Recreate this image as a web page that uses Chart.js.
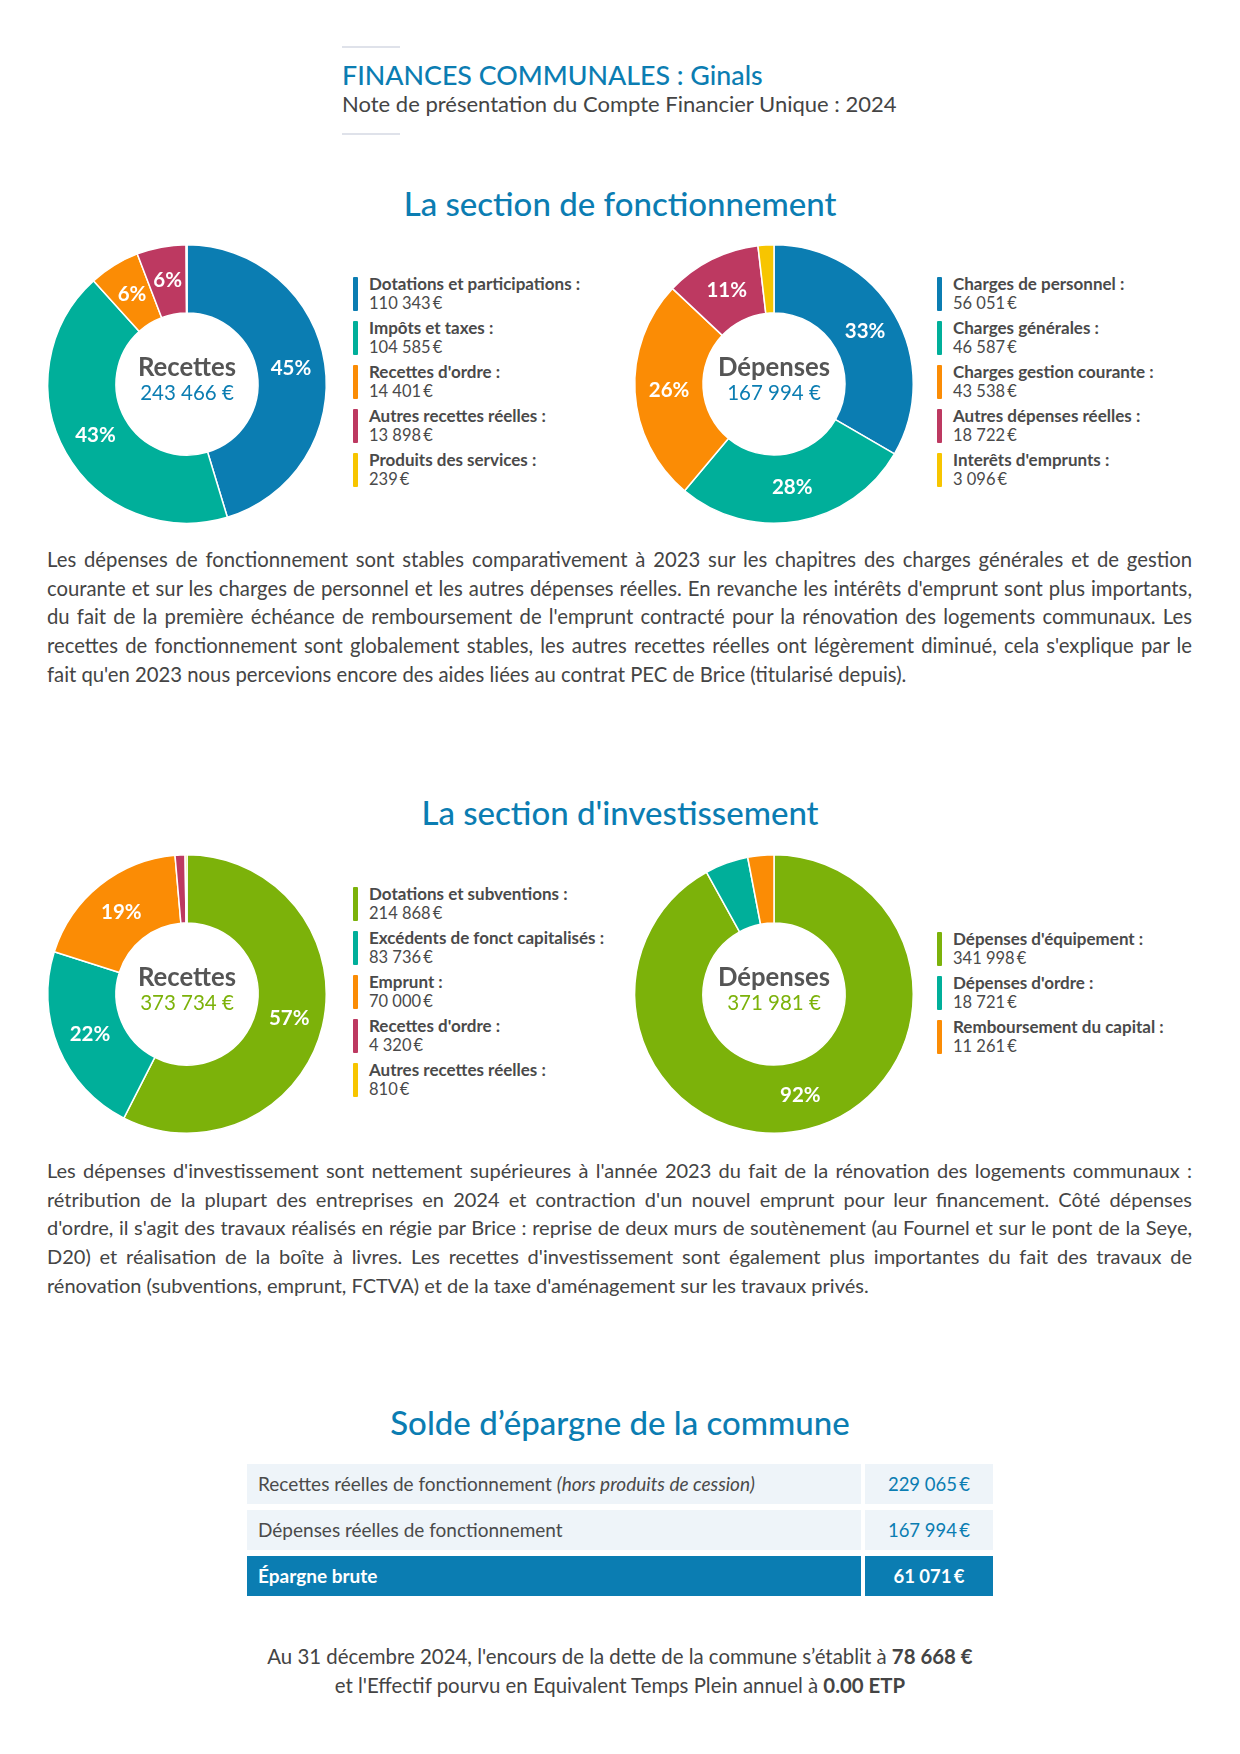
<!DOCTYPE html>
<html lang="fr">
<head>
<meta charset="utf-8">
<title>Finances communales : Ginals</title>
<script src="https://cdn.jsdelivr.net/npm/chart.js@4.4.1/dist/chart.umd.min.js"></script>
<style>
  html, body { margin: 0; padding: 0; background: #fff; }
  body { font-family: Lato, 'Open Sans', sans-serif; color: #444; }
  #page { position: relative; width: 1240px; height: 1754px; overflow: hidden; }
  .rule { position: absolute; left: 342px; width: 58px; height: 2px; background: #dfe2ea; }
  .title { position: absolute; left: 342px; top: 59px; font-size: 26.8px; line-height: 32px; color: #0b7db2; font-weight: 500; }
  .subtitle { position: absolute; left: 342px; top: 90px; font-size: 22px; line-height: 28px; color: #444; }
  .heading { position: absolute; left: 0; width: 1240px; text-align: center; font-size: 33px; line-height: 40px; color: #0b7db2; font-weight: 500; }
  .chartbox { position: absolute; width: 300px; height: 300px; }
  .legend { position: absolute; }
  .item { position: absolute; left: 0; padding-left: 16px; white-space: nowrap; }
  .item .bar { position: absolute; left: 0; top: 3px; width: 5px; height: 34px; border-radius: 1px; }
  .item .lab { font-size: 17px; line-height: 20px; font-weight: 700; color: #4a4a4a; }
  .item .val { font-size: 16.5px; line-height: 19px; color: #4a4a4a; }
  .para { position: absolute; left: 47px; width: 1145px; font-size: 20px; line-height: 28.7px; text-align: justify; color: #444; }
  .row { position: absolute; left: 247px; height: 40px; }
  .row .c1 { position: absolute; left: 0; top: 0; width: 614px; height: 40px; background: #eef4f9; line-height: 40px; padding-left: 11px; box-sizing: border-box; font-size: 19px; color: #4a4a4a; }
  .row .c2 { position: absolute; left: 618px; top: 0; width: 128px; height: 40px; background: #eef4f9; line-height: 40px; text-align: center; font-size: 18.5px; color: #0b7db2; }
  .row.total .c1, .row.total .c2 { background: #0b7db2; color: #fff; font-weight: 700; }
  .foot { position: absolute; left: 0; width: 1240px; text-align: center; font-size: 20.4px; line-height: 29px; color: #444; }
</style>
</head>
<body>
<div id="page">
  <div class="rule" style="top:46px"></div>
  <div class="title">FINANCES COMMUNALES : Ginals</div>
  <div class="subtitle">Note de présentation du Compte Financier Unique : 2024</div>
  <div class="rule" style="top:133px"></div>

  <div class="heading" style="top:183px">La section de fonctionnement</div>
  <div class="chartbox" style="left:37px;top:234px"><canvas id="foncRec"></canvas></div>
  <div class="legend" id="legFoncRec" style="left:353px;top:274px"></div>
  <div class="chartbox" style="left:624px;top:234px"><canvas id="foncDep"></canvas></div>
  <div class="legend" id="legFoncDep" style="left:937px;top:274px"></div>

  <div class="para" style="top:545px;font-size:20.3px">Les dépenses de fonctionnement sont stables comparativement à 2023 sur les chapitres des charges générales et de gestion courante et sur les charges de personnel et les autres dépenses réelles. En revanche les intérêts d'emprunt sont plus importants, du fait de la première échéance de remboursement de l'emprunt contracté pour la rénovation des logements communaux. Les recettes de fonctionnement sont globalement stables, les autres recettes réelles ont légèrement diminué, cela s'explique par le fait qu'en 2023 nous percevions encore des aides liées au contrat PEC de Brice (titularisé depuis).</div>

  <div class="heading" style="top:792px">La section d'investissement</div>
  <div class="chartbox" style="left:37px;top:844px"><canvas id="invRec"></canvas></div>
  <div class="legend" id="legInvRec" style="left:353px;top:884px"></div>
  <div class="chartbox" style="left:624px;top:844px"><canvas id="invDep"></canvas></div>
  <div class="legend" id="legInvDep" style="left:937px;top:929px"></div>

  <div class="para" style="top:1156px">Les dépenses d'investissement sont nettement supérieures à l'année 2023 du fait de la rénovation des logements communaux : rétribution de la plupart des entreprises en 2024 et contraction d'un nouvel emprunt pour leur financement. Côté dépenses d'ordre, il s'agit des travaux réalisés en régie par Brice : reprise de deux murs de soutènement (au Fournel et sur le pont de la Seye, D20) et réalisation de la boîte à livres. Les recettes d'investissement sont également plus importantes du fait des travaux de rénovation (subventions, emprunt, FCTVA) et de la taxe d'aménagement sur les travaux privés.</div>

  <div class="heading" style="top:1402px">Solde d’épargne de la commune</div>
  <div id="solde"></div>

  <div class="foot" style="top:1642px">Au 31 décembre 2024, l'encours de la dette de la commune s’établit à <b>78 668 €</b><br>et l'Effectif pourvu en Equivalent Temps Plein annuel à <b>0.00 ETP</b></div>
</div>

<script>
// ------------------------------------------------------------------ data
const foncRecLabels = ['Dotations et participations', 'Impôts et taxes', "Recettes d'ordre", 'Autres recettes réelles', 'Produits des services'];
const foncRecValues = [110343, 104585, 14401, 13898, 239];

const foncDepLabels = ['Charges de personnel', 'Charges générales', 'Charges gestion courante', 'Autres dépenses réelles', "Interêts d'emprunts"];
const foncDepValues = [56051, 46587, 43538, 18722, 3096];

const invRecLabels = ['Dotations et subventions', 'Excédents de fonct capitalisés', 'Emprunt', "Recettes d'ordre", 'Autres recettes réelles'];
const invRecValues = [214868, 83736, 70000, 4320, 810];

const invDepLabels = ["Dépenses d'équipement", "Dépenses d'ordre", 'Remboursement du capital'];
const invDepValues = [341998, 18721, 11261];

// totals printed in the hole of each donut (foncRec, foncDep, invRec, invDep)
const donutTotals = [243466, 167994, 373734, 371981];

const soldeLabels = ['Recettes réelles de fonctionnement', 'Dépenses réelles de fonctionnement', 'Épargne brute'];
const soldeValues = [229065, 167994, 61071];

// ------------------------------------------------------------------ colours
const BLUE = '#0b7db2', TEAL = '#00af9a', ORANGE = '#fb8c05', RASP = '#bd3961', YELLOW = '#f7c500', GREEN = '#7cb20a';
const foncColors = [BLUE, TEAL, ORANGE, RASP, YELLOW];
const invColors = [GREEN, TEAL, ORANGE, RASP, YELLOW];

const group = n => String(n).replace(/\B(?=(\d{3})+(?!\d))/g, ' ');
const euro = n => group(n) + ' €';
const euroTight = n => group(n) + '\u2009€';
const sum = arr => arr.reduce((a, b) => a + b, 0);

// percentages in the ring + title/total in the hole
const donutText = {
    id: 'donutText',
    afterDatasetsDraw(chart, args, opts) {
        const { ctx } = chart;
        const meta = chart.getDatasetMeta(0);
        const values = chart.data.datasets[0].data;
        const total = sum(values);
        ctx.save();
        ctx.textAlign = 'center';
        ctx.textBaseline = 'middle';
        ctx.fillStyle = '#fff';
        ctx.font = '700 20.5px Lato';
        meta.data.forEach((arc, i) => {
            const share = values[i] / total * 100;
            if (share < 5.5) return;
            const p = arc.tooltipPosition();
            ctx.fillText(Math.round(share) + '%', p.x, p.y);
        });
        const c = meta.data[0];
        ctx.fillStyle = '#555';
        ctx.font = '700 25.7px Lato';
        ctx.fillText(opts.title, c.x, c.y - 16);
        ctx.fillStyle = opts.color;
        ctx.font = '400 20.5px Lato';
        ctx.fillText(euro(opts.total), c.x, c.y + 9);
        ctx.restore();
    }
};

function makeDonut(id, labels, values, colors, title, total, totalColor) {
    return new Chart(document.getElementById(id), {
        type: 'doughnut',
        data: {
            labels,
            datasets: [{ data: values, backgroundColor: colors.slice(0, values.length), borderColor: '#fff', borderWidth: 1.5 }]
        },
        options: {
            responsive: true,
            maintainAspectRatio: false,
            animation: false,
            cutout: '51%',
            layout: { padding: 10 },
            plugins: {
                legend: { display: false },
                tooltip: { enabled: false },
                donutText: { title, total, color: totalColor }
            }
        },
        plugins: [donutText]
    });
}

function makeLegend(id, labels, values, colors, step) {
    const el = document.getElementById(id);
    el.innerHTML = labels.map((l, i) => `
        <div class="item" style="top:${i * step}px">
            <div class="bar" style="background:${colors[i]}"></div>
            <div class="lab">${l} :</div>
            <div class="val">${euroTight(values[i])}</div>
        </div>`).join('');
}

makeDonut('foncRec', foncRecLabels, foncRecValues, foncColors, 'Recettes', donutTotals[0], BLUE);
makeDonut('foncDep', foncDepLabels, foncDepValues, foncColors, 'Dépenses', donutTotals[1], BLUE);
makeDonut('invRec', invRecLabels, invRecValues, invColors, 'Recettes', donutTotals[2], GREEN);
makeDonut('invDep', invDepLabels, invDepValues, invColors, 'Dépenses', donutTotals[3], GREEN);

makeLegend('legFoncRec', foncRecLabels, foncRecValues, foncColors, 44);
makeLegend('legFoncDep', foncDepLabels, foncDepValues, foncColors, 44);
makeLegend('legInvRec', invRecLabels, invRecValues, invColors, 44);
makeLegend('legInvDep', invDepLabels, invDepValues, invColors, 44);

// solde table
document.getElementById('solde').innerHTML = soldeLabels.map((l, i) => {
    const extra = i === 0 ? ' <i>(hors produits de cession)</i>' : '';
    const cls = i === soldeLabels.length - 1 ? 'row total' : 'row';
    return `<div class="${cls}" style="top:${1464 + i * 46}px">
        <div class="c1">${l}${extra}</div><div class="c2">${euroTight(soldeValues[i])}</div></div>`;
}).join('');
</script>
</body>
</html>
